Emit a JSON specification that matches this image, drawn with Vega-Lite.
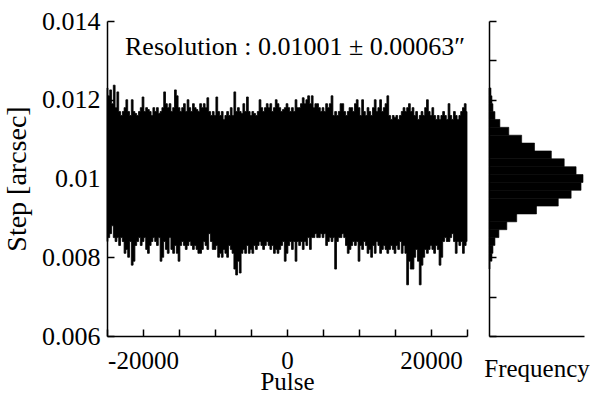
{
  "$schema": "https://vega.github.io/schema/vega-lite/v6.json",
  "background": "white",
  "padding": {"left": 3, "top": 8, "right": 0, "bottom": 0},
  "bounds": "flush",
  "spacing": 22,
  "config": {
    "font": "Liberation Serif",
    "view": {"stroke": null},
    "axis": {
      "domainColor": "black", "domainWidth": 1.5,
      "tickColor": "black", "tickWidth": 1.5, "tickSize": -7,
      "labelFont": "Liberation Serif", "labelFontSize": 25, "labelColor": "black",
      "titleFont": "Liberation Serif", "titleFontSize": 26, "titleFontWeight": "normal", "titleColor": "black",
      "grid": false, "labelOverlap": false, "labelFlush": false
    }
  },
  "datasets": {
    "steps": [
      {"p":-25000,"lo":0.0084,"hi":0.0123},{"p":-24750,"lo":0.0085,"hi":0.0121},{"p":-24500,"lo":0.0086,"hi":0.01225},{"p":-24250,"lo":0.0088,"hi":0.0119},{"p":-24000,"lo":0.0085,"hi":0.01237},
      {"p":-23750,"lo":0.0084,"hi":0.0118},{"p":-23500,"lo":0.0085,"hi":0.0122},{"p":-23250,"lo":0.0083,"hi":0.0117},{"p":-23000,"lo":0.0085,"hi":0.0116},{"p":-22750,"lo":0.0084,"hi":0.0117},
      {"p":-22500,"lo":0.0081,"hi":0.0118},{"p":-22250,"lo":0.0082,"hi":0.0120},{"p":-22000,"lo":0.0080,"hi":0.0117},{"p":-21750,"lo":0.0084,"hi":0.0116},{"p":-21500,"lo":0.0078,"hi":0.0120},
      {"p":-21250,"lo":0.0079,"hi":0.0117},{"p":-21000,"lo":0.0083,"hi":0.01165},{"p":-20750,"lo":0.0084,"hi":0.0116},{"p":-20500,"lo":0.0085,"hi":0.0117},{"p":-20250,"lo":0.0083,"hi":0.0118},
      {"p":-20000,"lo":0.0084,"hi":0.01207},{"p":-19750,"lo":0.0085,"hi":0.0117},{"p":-19500,"lo":0.0082,"hi":0.0118},{"p":-19250,"lo":0.0081,"hi":0.01175},{"p":-19000,"lo":0.0083,"hi":0.0117},
      {"p":-18750,"lo":0.0084,"hi":0.0116},{"p":-18500,"lo":0.0085,"hi":0.0118},{"p":-18250,"lo":0.0084,"hi":0.0117},{"p":-18000,"lo":0.0083,"hi":0.0118},{"p":-17750,"lo":0.0085,"hi":0.01165},
      {"p":-17500,"lo":0.0079,"hi":0.0117},{"p":-17250,"lo":0.0080,"hi":0.0118},{"p":-17000,"lo":0.0084,"hi":0.0122},{"p":-16750,"lo":0.0082,"hi":0.0119},{"p":-16500,"lo":0.0081,"hi":0.0118},
      {"p":-16250,"lo":0.0085,"hi":0.0119},{"p":-16000,"lo":0.0082,"hi":0.0117},{"p":-15750,"lo":0.0081,"hi":0.0118},{"p":-15500,"lo":0.0083,"hi":0.01225},{"p":-15250,"lo":0.0081,"hi":0.0121},
      {"p":-15000,"lo":0.0079,"hi":0.0118},{"p":-14750,"lo":0.0083,"hi":0.0117},{"p":-14500,"lo":0.0084,"hi":0.0118},{"p":-14250,"lo":0.0083,"hi":0.0119},{"p":-14000,"lo":0.0082,"hi":0.0117},
      {"p":-13750,"lo":0.0083,"hi":0.0120},{"p":-13500,"lo":0.0084,"hi":0.0118},{"p":-13250,"lo":0.0083,"hi":0.0117},{"p":-13000,"lo":0.0082,"hi":0.0119},{"p":-12750,"lo":0.0083,"hi":0.0118},
      {"p":-12500,"lo":0.0082,"hi":0.01175},{"p":-12250,"lo":0.0081,"hi":0.0117},{"p":-12000,"lo":0.0081,"hi":0.0119},{"p":-11750,"lo":0.0082,"hi":0.0118},{"p":-11500,"lo":0.0084,"hi":0.0119},
      {"p":-11250,"lo":0.0083,"hi":0.0118},{"p":-11000,"lo":0.0082,"hi":0.01205},{"p":-10750,"lo":0.0086,"hi":0.0117},{"p":-10500,"lo":0.0084,"hi":0.0116},{"p":-10250,"lo":0.0082,"hi":0.0117},
      {"p":-10000,"lo":0.0082,"hi":0.0116},{"p":-9750,"lo":0.0083,"hi":0.01207},{"p":-9500,"lo":0.0080,"hi":0.0117},{"p":-9250,"lo":0.0081,"hi":0.0116},{"p":-9000,"lo":0.0080,"hi":0.0117},
      {"p":-8750,"lo":0.0082,"hi":0.0115},{"p":-8500,"lo":0.0081,"hi":0.0116},{"p":-8250,"lo":0.0080,"hi":0.0117},{"p":-8000,"lo":0.0083,"hi":0.0116},{"p":-7750,"lo":0.0082,"hi":0.0118},
      {"p":-7500,"lo":0.0081,"hi":0.0116},{"p":-7250,"lo":0.0077,"hi":0.0122},{"p":-7000,"lo":0.00755,"hi":0.0117},{"p":-6750,"lo":0.0079,"hi":0.0118},{"p":-6500,"lo":0.0076,"hi":0.0117},
      {"p":-6250,"lo":0.0081,"hi":0.01165},{"p":-6000,"lo":0.0082,"hi":0.0119},{"p":-5750,"lo":0.0081,"hi":0.0117},{"p":-5500,"lo":0.0083,"hi":0.01207},{"p":-5250,"lo":0.0081,"hi":0.0117},
      {"p":-5000,"lo":0.0082,"hi":0.0116},{"p":-4750,"lo":0.0081,"hi":0.0117},{"p":-4500,"lo":0.0083,"hi":0.01165},{"p":-4250,"lo":0.0082,"hi":0.0116},{"p":-4000,"lo":0.0083,"hi":0.0117},
      {"p":-3750,"lo":0.0084,"hi":0.0120},{"p":-3500,"lo":0.0083,"hi":0.0118},{"p":-3250,"lo":0.0082,"hi":0.0117},{"p":-3000,"lo":0.0083,"hi":0.0118},{"p":-2750,"lo":0.0084,"hi":0.0119},
      {"p":-2500,"lo":0.0083,"hi":0.0118},{"p":-2250,"lo":0.0082,"hi":0.0119},{"p":-2000,"lo":0.0083,"hi":0.0117},{"p":-1750,"lo":0.0081,"hi":0.0118},{"p":-1500,"lo":0.0082,"hi":0.0120},
      {"p":-1250,"lo":0.0081,"hi":0.0119},{"p":-1000,"lo":0.0082,"hi":0.0118},{"p":-750,"lo":0.0083,"hi":0.0117},{"p":-500,"lo":0.0084,"hi":0.01175},{"p":-250,"lo":0.0079,"hi":0.0118},
      {"p":0,"lo":0.0081,"hi":0.0119},{"p":250,"lo":0.0083,"hi":0.0118},{"p":500,"lo":0.0084,"hi":0.0117},{"p":750,"lo":0.0082,"hi":0.0118},{"p":1000,"lo":0.0084,"hi":0.0117},
      {"p":1250,"lo":0.0079,"hi":0.0120},{"p":1500,"lo":0.0084,"hi":0.0118},{"p":1750,"lo":0.0083,"hi":0.0118},{"p":2000,"lo":0.0084,"hi":0.0119},{"p":2250,"lo":0.0082,"hi":0.01205},
      {"p":2500,"lo":0.0084,"hi":0.0119},{"p":2750,"lo":0.0083,"hi":0.0120},{"p":3000,"lo":0.0085,"hi":0.0121},{"p":3250,"lo":0.0082,"hi":0.0119},{"p":3500,"lo":0.0085,"hi":0.0121},
      {"p":3750,"lo":0.0085,"hi":0.0118},{"p":4000,"lo":0.0086,"hi":0.0119},{"p":4250,"lo":0.0085,"hi":0.0119},{"p":4500,"lo":0.0085,"hi":0.0118},{"p":4750,"lo":0.0086,"hi":0.0117},
      {"p":5000,"lo":0.0085,"hi":0.0118},{"p":5250,"lo":0.0086,"hi":0.0117},{"p":5500,"lo":0.0083,"hi":0.0119},{"p":5750,"lo":0.0084,"hi":0.0118},{"p":6000,"lo":0.0085,"hi":0.0119},
      {"p":6250,"lo":0.0084,"hi":0.0121},{"p":6500,"lo":0.0085,"hi":0.0116},{"p":6750,"lo":0.0077,"hi":0.0117},{"p":7000,"lo":0.0084,"hi":0.0116},{"p":7250,"lo":0.0085,"hi":0.0117},
      {"p":7500,"lo":0.0085,"hi":0.0119},{"p":7750,"lo":0.0086,"hi":0.0119},{"p":8000,"lo":0.0085,"hi":0.0117},{"p":8250,"lo":0.0083,"hi":0.0116},{"p":8500,"lo":0.0081,"hi":0.0117},
      {"p":8750,"lo":0.0082,"hi":0.0118},{"p":9000,"lo":0.0083,"hi":0.0118},{"p":9250,"lo":0.0084,"hi":0.0117},{"p":9500,"lo":0.0083,"hi":0.0119},{"p":9750,"lo":0.0084,"hi":0.0120},
      {"p":10000,"lo":0.0079,"hi":0.0118},{"p":10250,"lo":0.0083,"hi":0.0116},{"p":10500,"lo":0.0082,"hi":0.0120},{"p":10750,"lo":0.0084,"hi":0.0117},{"p":11000,"lo":0.0083,"hi":0.0116},
      {"p":11250,"lo":0.0081,"hi":0.0118},{"p":11500,"lo":0.0082,"hi":0.0117},{"p":11750,"lo":0.0080,"hi":0.0116},{"p":12000,"lo":0.0083,"hi":0.0118},{"p":12250,"lo":0.0081,"hi":0.0120},
      {"p":12500,"lo":0.0084,"hi":0.0117},{"p":12750,"lo":0.0083,"hi":0.0118},{"p":13000,"lo":0.0081,"hi":0.0120},{"p":13250,"lo":0.0082,"hi":0.0117},{"p":13500,"lo":0.0083,"hi":0.0118},
      {"p":13750,"lo":0.0082,"hi":0.0119},{"p":14000,"lo":0.0081,"hi":0.0121},{"p":14250,"lo":0.0082,"hi":0.0116},{"p":14500,"lo":0.0083,"hi":0.0115},{"p":14750,"lo":0.0082,"hi":0.0116},
      {"p":15000,"lo":0.0081,"hi":0.01155},{"p":15250,"lo":0.0083,"hi":0.0116},{"p":15500,"lo":0.0082,"hi":0.0115},{"p":15750,"lo":0.0084,"hi":0.0116},{"p":16000,"lo":0.0081,"hi":0.0117},
      {"p":16250,"lo":0.0083,"hi":0.0118},{"p":16500,"lo":0.0081,"hi":0.0117},{"p":16750,"lo":0.0073,"hi":0.0118},{"p":17000,"lo":0.0079,"hi":0.0119},{"p":17250,"lo":0.0077,"hi":0.0117},
      {"p":17500,"lo":0.0077,"hi":0.0118},{"p":17750,"lo":0.0080,"hi":0.0116},{"p":18000,"lo":0.0082,"hi":0.0117},{"p":18250,"lo":0.0079,"hi":0.0115},{"p":18500,"lo":0.0073,"hi":0.0116},
      {"p":18750,"lo":0.0078,"hi":0.0117},{"p":19000,"lo":0.0080,"hi":0.0116},{"p":19250,"lo":0.0082,"hi":0.0118},{"p":19500,"lo":0.0081,"hi":0.0120},{"p":19750,"lo":0.0082,"hi":0.0117},
      {"p":20000,"lo":0.0083,"hi":0.0116},{"p":20250,"lo":0.0082,"hi":0.0118},{"p":20500,"lo":0.0081,"hi":0.0116},{"p":20750,"lo":0.0083,"hi":0.0115},{"p":21000,"lo":0.0082,"hi":0.0116},
      {"p":21250,"lo":0.0078,"hi":0.0115},{"p":21500,"lo":0.0080,"hi":0.0116},{"p":21750,"lo":0.0084,"hi":0.0117},{"p":22000,"lo":0.0085,"hi":0.0116},{"p":22250,"lo":0.0084,"hi":0.0115},
      {"p":22500,"lo":0.0084,"hi":0.0119},{"p":22750,"lo":0.0085,"hi":0.0116},{"p":23000,"lo":0.0086,"hi":0.0115},{"p":23250,"lo":0.0084,"hi":0.0117},{"p":23500,"lo":0.0081,"hi":0.0116},
      {"p":23750,"lo":0.0084,"hi":0.0115},{"p":24000,"lo":0.0083,"hi":0.0116},{"p":24250,"lo":0.0084,"hi":0.0117},{"p":24500,"lo":0.0081,"hi":0.0118},{"p":24750,"lo":0.0083,"hi":0.0119},
      {"p":25000,"lo":0.0084,"hi":0.0117}
    ],
    "hist": [
      {"s0":0.0121,"s1":0.0123,"n":2},{"s0":0.0119,"s1":0.0121,"n":3},{"s0":0.0117,"s1":0.0119,"n":4},
      {"s0":0.0115,"s1":0.0117,"n":6},{"s0":0.0113,"s1":0.0115,"n":11},{"s0":0.0111,"s1":0.0113,"n":20},
      {"s0":0.0109,"s1":0.0111,"n":33},{"s0":0.0107,"s1":0.0109,"n":46},{"s0":0.0105,"s1":0.0107,"n":63},
      {"s0":0.0103,"s1":0.0105,"n":76},{"s0":0.0101,"s1":0.0103,"n":88},{"s0":0.0099,"s1":0.0101,"n":95},
      {"s0":0.0097,"s1":0.0099,"n":93},{"s0":0.0095,"s1":0.0097,"n":83},{"s0":0.0093,"s1":0.0095,"n":70},
      {"s0":0.0091,"s1":0.0093,"n":48},{"s0":0.0089,"s1":0.0091,"n":28},{"s0":0.0087,"s1":0.0089,"n":18},
      {"s0":0.0085,"s1":0.0087,"n":10},{"s0":0.0083,"s1":0.0085,"n":6},{"s0":0.0081,"s1":0.0083,"n":4},
      {"s0":0.0079,"s1":0.0081,"n":3},{"s0":0.0077,"s1":0.0079,"n":1}
    ]
  },
  "hconcat": [
    {
      "width": 360,
      "height": 315,
      "resolve": {"axis": {"x": "independent"}},
      "layer": [
        {
          "data": {"name": "steps"},
          "mark": {"type": "area", "color": "black", "interpolate": "step", "stroke": "black", "strokeWidth": 0.8},
          "encoding": {
            "x": {"field": "p", "type": "quantitative",
                  "scale": {"domain": [-25000, 25000], "nice": false, "zero": false},
                  "axis": {"orient": "bottom", "title": null, "labels": false,
                           "values": [-25000,-20000,-15000,-10000,-5000,0,5000,10000,15000,20000,25000]}},
            "y": {"field": "lo", "type": "quantitative",
                  "scale": {"domain": [0.006, 0.014], "nice": false, "zero": false},
                  "axis": {"title": "Step [arcsec]", "titleFontSize": 28, "labelFontSize": 26, "values": [0.006,0.007,0.008,0.009,0.01,0.011,0.012,0.013,0.014],
                           "labelExpr": "round(datum.value*1000) % 2 == 0 ? format(datum.value, '~g') : ''",
                           "labelPadding": 14, "titlePadding": 10}},
            "y2": {"field": "hi"}
          }
        },
        {
          "data": {"values": [{}]},
          "mark": {"type": "text", "align": "left", "baseline": "middle", "fontSize": 26, "font": "Liberation Serif", "color": "black"},
          "encoding": {
            "x": {"datum": -22500, "type": "quantitative",
                  "axis": {"orient": "bottom", "title": "Pulse", "titleFontSize": 25, "values": [-20000, 0, 20000], "format": "d",
                           "labelExpr": "replace(datum.label, '\u2212', '-')",
                           "ticks": false, "domain": false, "labelPadding": 12, "titlePadding": -4}},
            "y": {"datum": 0.01334, "type": "quantitative"},
            "text": {"value": "Resolution : 0.01001 ± 0.00063″"}
          }
        }
      ]
    },
    {
      "width": 95,
      "height": 315,
      "data": {"name": "hist"},
      "mark": {"type": "rect", "color": "black", "stroke": "black", "strokeWidth": 0.6},
      "encoding": {
        "y": {"field": "s0", "type": "quantitative",
              "scale": {"domain": [0.006, 0.014], "nice": false, "zero": false},
              "axis": {"title": null, "labels": false, "values": [0.006,0.007,0.008,0.009,0.01,0.011,0.012,0.013,0.014]}},
        "y2": {"field": "s1"},
        "x": {"field": "n", "type": "quantitative",
              "scale": {"domain": [0, 96], "nice": false},
              "axis": {"title": "Frequency", "titleFontSize": 25, "ticks": false, "labels": false, "titlePadding": 20}},
        "x2": {"datum": 0}
      }
    }
  ]
}
